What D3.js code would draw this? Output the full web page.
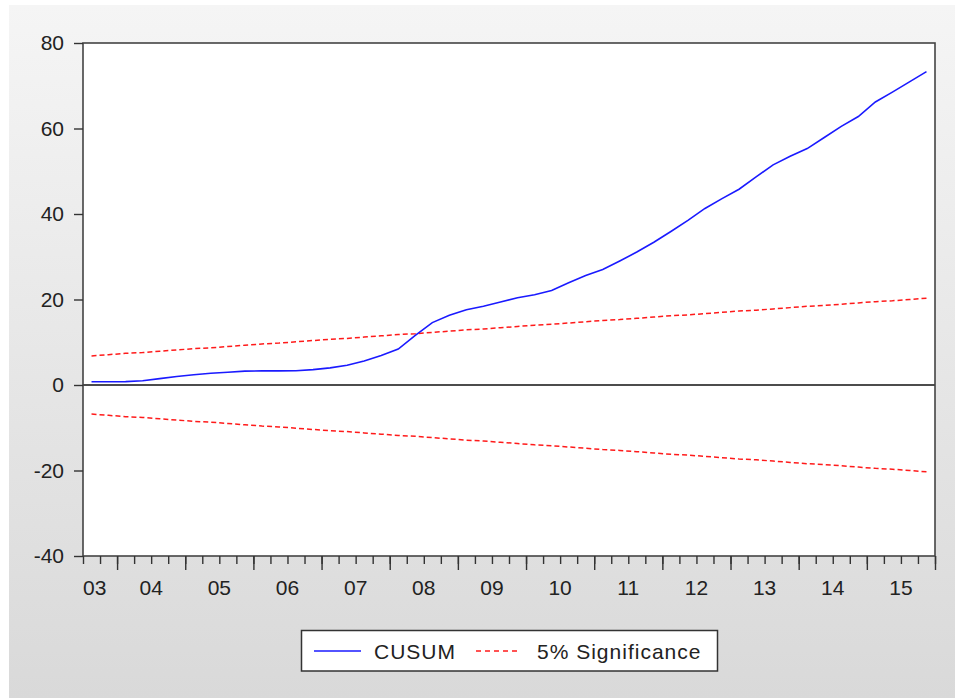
<!DOCTYPE html>
<html>
<head>
<meta charset="utf-8">
<script src="https://cdn.jsdelivr.net/npm/d3@7/dist/d3.min.js"></script>
<style>
  html, body { margin: 0; padding: 0; background: #ffffff; }
  svg { display: block; }
  text { font-family: "Liberation Sans", Arial, sans-serif; fill: #222; }
</style>
</head>
<body>
<svg id="chart" width="955" height="698"></svg>
<script>
// ---------------- data ----------------
const quarters = [
  "2003Q3","2003Q4",
  "2004Q1","2004Q2","2004Q3","2004Q4",
  "2005Q1","2005Q2","2005Q3","2005Q4",
  "2006Q1","2006Q2","2006Q3","2006Q4",
  "2007Q1","2007Q2","2007Q3","2007Q4",
  "2008Q1","2008Q2","2008Q3","2008Q4",
  "2009Q1","2009Q2","2009Q3","2009Q4",
  "2010Q1","2010Q2","2010Q3","2010Q4",
  "2011Q1","2011Q2","2011Q3","2011Q4",
  "2012Q1","2012Q2","2012Q3","2012Q4",
  "2013Q1","2013Q2","2013Q3","2013Q4",
  "2014Q1","2014Q2","2014Q3","2014Q4",
  "2015Q1","2015Q2","2015Q3","2015Q4"
];
const cusum = [
  0.75, 0.75,
  0.8, 1.0, 1.5, 2.0,
  2.4, 2.75, 3.0, 3.25,
  3.3, 3.3, 3.35, 3.6,
  4.0, 4.6, 5.6, 6.9,
  8.4, 11.6, 14.6, 16.3,
  17.6, 18.4, 19.4, 20.4,
  21.1, 22.1, 23.9, 25.6,
  27.0, 29.0, 31.1, 33.4,
  35.9, 38.5, 41.3, 43.6,
  45.8, 48.7, 51.5, 53.5,
  55.3, 57.9, 60.5, 62.8,
  66.2, 68.5, 70.9, 73.3
];
const upper5 = [
  6.8, 7.1,
  7.4, 7.6, 7.9, 8.2,
  8.5, 8.7, 9.0, 9.3,
  9.6, 9.8, 10.1, 10.4,
  10.7, 10.9, 11.2, 11.5,
  11.8, 12.0, 12.3, 12.6,
  12.9, 13.1, 13.4, 13.7,
  14.0, 14.2, 14.5, 14.8,
  15.1, 15.3, 15.6, 15.9,
  16.2, 16.4, 16.7, 17.0,
  17.3, 17.5, 17.8, 18.1,
  18.4, 18.6, 18.9, 19.2,
  19.5, 19.7, 20.0, 20.3
];
const lower5 = [
  -6.8, -7.1,
  -7.4, -7.6, -7.9, -8.2,
  -8.5, -8.7, -9.0, -9.3,
  -9.6, -9.8, -10.1, -10.4,
  -10.7, -10.9, -11.2, -11.5,
  -11.8, -12.0, -12.3, -12.6,
  -12.9, -13.1, -13.4, -13.7,
  -14.0, -14.2, -14.5, -14.8,
  -15.1, -15.3, -15.6, -15.9,
  -16.2, -16.4, -16.7, -17.0,
  -17.3, -17.5, -17.8, -18.1,
  -18.4, -18.6, -18.9, -19.2,
  -19.5, -19.7, -20.0, -20.3
];
const yTicks = [-40, -20, 0, 20, 40, 60, 80];
const yearLabels = ["03","04","05","06","07","08","09","10","11","12","13","14","15"];
const yearValues = [2003,2004,2005,2006,2007,2008,2009,2010,2011,2012,2013,2014,2015];
const seriesNames = ["CUSUM", "5% Significance"];

// ---------------- layout ----------------
const svg = d3.select("#chart");
const W = 955, H = 698;
const plot = { left: 83, right: 935, top: 43, bottom: 556 };

// background panel with vertical gradient
const defs = svg.append("defs");
const grad = defs.append("linearGradient").attr("id", "bg").attr("x1", 0).attr("y1", 0).attr("x2", 0).attr("y2", 1);
grad.append("stop").attr("offset", "0%").attr("stop-color", "#f5f5f5");
grad.append("stop").attr("offset", "100%").attr("stop-color", "#d9d9d9");
svg.append("rect").attr("x", 9).attr("y", 5).attr("width", W - 9).attr("height", H - 5).attr("fill", "url(#bg)");

// time value of a quarter label (center of the quarter)
const qTime = q => +q.slice(0, 4) + (+q.slice(5) - 1) / 4 + 0.125;

const x = d3.scaleLinear().domain([2003.5, 2016]).range([plot.left, plot.right]);
const y = d3.scaleLinear().domain([-40, 80]).range([plot.bottom, plot.top]);

// plot area
svg.append("rect")
  .attr("x", plot.left).attr("y", plot.top)
  .attr("width", plot.right - plot.left).attr("height", plot.bottom - plot.top)
  .attr("fill", "#ffffff");

// zero line
svg.append("line")
  .attr("x1", plot.left).attr("x2", plot.right)
  .attr("y1", y(0)).attr("y2", y(0))
  .attr("stroke", "#111").attr("stroke-width", 1.4);

// series
const line = d3.line().x((d, i) => x(qTime(quarters[i]))).y(d => y(d));

const gLines = svg.append("g");
gLines.append("path").datum(upper5).attr("d", line)
  .attr("fill", "none").attr("stroke", "#ff1a1a").attr("stroke-width", 1.5)
  .attr("stroke-dasharray", "5,3");
gLines.append("path").datum(lower5).attr("d", line)
  .attr("fill", "none").attr("stroke", "#ff1a1a").attr("stroke-width", 1.5)
  .attr("stroke-dasharray", "5,3");
gLines.append("path").datum(cusum).attr("d", line)
  .attr("fill", "none").attr("stroke", "#1a1aff").attr("stroke-width", 1.6);

// frame
svg.append("rect")
  .attr("x", plot.left).attr("y", plot.top)
  .attr("width", plot.right - plot.left).attr("height", plot.bottom - plot.top)
  .attr("fill", "none").attr("stroke", "#444").attr("stroke-width", 1.6);

// y axis
const yAxis = d3.axisLeft(y).tickValues(yTicks).tickSize(9).tickPadding(10).tickFormat(d3.format("d"));
const gy = svg.append("g").attr("transform", `translate(${plot.left},0)`).call(yAxis);
gy.select(".domain").remove();
gy.selectAll(".tick line").attr("stroke", "#333").attr("stroke-width", 1.4);
gy.selectAll(".tick text")
  .style("font-family", '"Liberation Sans", Arial, sans-serif')
  .style("font-size", "21px").attr("fill", "#222")
  .text(d => d < 0 ? "-" + Math.abs(d) : d);

// x axis: quarterly minor ticks, yearly major ticks
const quarterTicks = d3.range(0, 51).map(i => 2003.5 + i * 0.25);
const gxMinor = svg.append("g").attr("transform", `translate(0,${plot.bottom})`)
  .call(d3.axisBottom(x).tickValues(quarterTicks).tickSize(8).tickFormat(""));
gxMinor.select(".domain").remove();
gxMinor.selectAll(".tick line").attr("stroke", "#333").attr("stroke-width", 1.4);

const gxMajor = svg.append("g").attr("transform", `translate(0,${plot.bottom})`)
  .call(d3.axisBottom(x).tickValues(yearValues.slice(1).concat([2016])).tickSize(14).tickFormat(""));
gxMajor.select(".domain").remove();
gxMajor.selectAll(".tick line").attr("stroke", "#333").attr("stroke-width", 1.4);

// year labels centered in the visible part of each year
const gxLab = svg.append("g");
yearValues.forEach((yr, i) => {
  const a = Math.max(yr, 2003.5), b = Math.min(yr + 1, 2016);
  const first = yr < 2003.5;
  gxLab.append("text")
    .attr("x", first ? x(a) : x((a + b) / 2))
    .attr("y", 595)
    .attr("text-anchor", first ? "start" : "middle")
    .style("font-size", "21px")
    .text(yearLabels[i]);
});

// legend
const leg = svg.append("g");
leg.append("rect").attr("x", 301.5).attr("y", 630.5).attr("width", 416).attr("height", 40.5)
  .attr("fill", "#ffffff").attr("stroke", "#333").attr("stroke-width", 1.5);
leg.append("line").attr("x1", 314).attr("x2", 361).attr("y1", 651).attr("y2", 651)
  .attr("stroke", "#1a1aff").attr("stroke-width", 1.6);
leg.append("text").attr("x", 374).attr("y", 658.5).style("font-size", "21px")
  .style("letter-spacing", "1px").text(seriesNames[0]);
leg.append("line").attr("x1", 476).attr("x2", 521).attr("y1", 651).attr("y2", 651)
  .attr("stroke", "#ff1a1a").attr("stroke-width", 1.5).attr("stroke-dasharray", "5,4");
leg.append("text").attr("x", 537).attr("y", 658.5).style("font-size", "21px")
  .style("letter-spacing", "1px").text(seriesNames[1]);
</script>
</body>
</html>
